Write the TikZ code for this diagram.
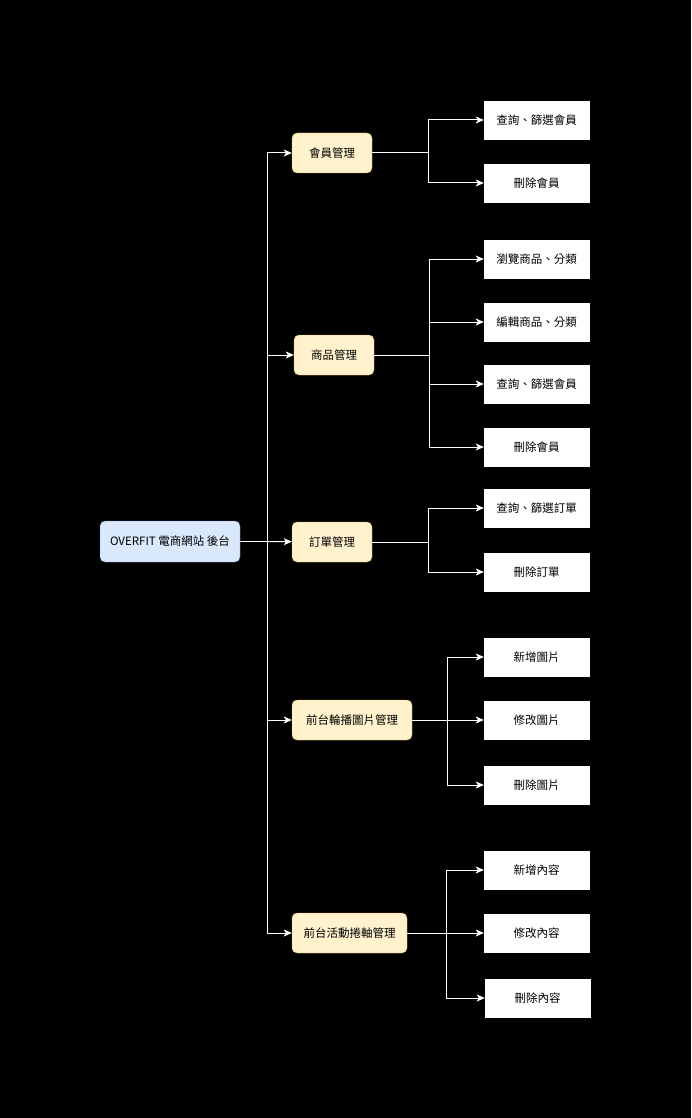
\documentclass[tikz,border=0pt]{standalone}
\usepackage{fontspec}
\setmainfont{Noto Sans CJK TC}
\usepackage{tikz}
\usetikzlibrary{arrows.meta, shapes, backgrounds, calc}
\pgfdeclarelayer{background}
\pgfsetlayers{background,main}

\definecolor{rootFill}{HTML}{DAE8FC}
\definecolor{rootLine}{HTML}{6C8EBF}
\definecolor{modFill}{HTML}{FFF2CC}
\definecolor{modLine}{HTML}{D6B656}

\begin{document}
\begin{tikzpicture}[x=1pt, y=-1pt]

    % Font
    \fontsize{11.5}{14}\selectfont

    % Boxes
    \tikzset{nRoot/.style={draw=rootLine, fill=rootFill, rounded corners=5pt, minimum width=140pt, minimum height=41pt, inner sep=0pt}}
    \tikzset{nMod/.style={draw=modLine, fill=modFill, rounded corners=5pt, minimum height=40pt, inner sep=0pt}}
    \tikzset{nLeaf/.style={draw=white, fill=white, minimum width=105pt, minimum height=38pt, inner sep=0pt}}

    % Connectors
    \tikzset{pE/.style={draw=white, line width=1pt, -{Stealth[length=8pt, width=7pt, inset=2pt]}}}
    \tikzset{pL/.style={draw=white, line width=1pt}}

    % Root
    \node (root) [nRoot] at (170, 541.5) {OVERFIT 電商網站 後台};

    % Modules
    \node (mem) [nMod, minimum width=80pt] at (332, 153) {會員管理};
    \node (prod) [nMod, minimum width=80pt] at (334, 355) {商品管理};
    \node (ord) [nMod, minimum width=80pt] at (332, 542) {訂單管理};
    \node (car) [nMod, minimum width=120pt] at (352, 720) {前台輪播圖片管理};
    \node (act) [nMod, minimum width=115pt] at (349.5, 933) {前台活動捲軸管理};

    % Leaves
    \node (mem1) [nLeaf] at (536.5, 120) {查詢、篩選會員};
    \node (mem2) [nLeaf] at (536.5, 183) {刪除會員};
    \node (prod1) [nLeaf] at (536.5, 259) {瀏覽商品、分類};
    \node (prod2) [nLeaf] at (536.5, 322) {編輯商品、分類};
    \node (prod3) [nLeaf] at (536.5, 384) {查詢、篩選會員};
    \node (prod4) [nLeaf] at (536.5, 447) {刪除會員};
    \node (ord1) [nLeaf] at (536.5, 508) {查詢、篩選訂單};
    \node (ord2) [nLeaf] at (536.5, 572) {刪除訂單};
    \node (car1) [nLeaf] at (536.5, 657) {新增圖片};
    \node (car2) [nLeaf] at (536.5, 720) {修改圖片};
    \node (car3) [nLeaf] at (536.5, 785) {刪除圖片};
    \node (act1) [nLeaf] at (536.5, 870) {新增內容};
    \node (act2) [nLeaf] at (536.5, 933) {修改內容};
    \node (act3) [nLeaf] at (537.5, 998) {刪除內容};

    % Branch points
    \coordinate (tR) at (267, 541.5);
    \coordinate (tMem) at (428, 153);
    \coordinate (tProd) at (429, 355);
    \coordinate (tOrd) at (428, 542);
    \coordinate (tCar) at (447, 720);
    \coordinate (tAct) at (446, 933);

    % Canvas and edges
    \begin{pgfonlayer}{background}

    	% Canvas
    	\fill[black] (0,0) rectangle (691,1118);

    	% Root to modules
    	\path[pL] (root) -- (tR);
    		\path[pE] (tR) |- (mem);
    		\path[pE] (tR) |- (prod);
    		\path[pE] (tR) -- (ord);
    		\path[pE] (tR) |- (car);
    		\path[pE] (tR) |- (act);

    	% Modules to leaves
    	\path[pL] (mem) -- (tMem);
    		\path[pE] (tMem) |- (mem1);
    		\path[pE] (tMem) |- (mem2);
    	\path[pL] (prod) -- (tProd);
    		\path[pE] (tProd) |- (prod1);
    		\path[pE] (tProd) |- (prod2);
    		\path[pE] (tProd) |- (prod3);
    		\path[pE] (tProd) |- (prod4);
    	\path[pL] (ord) -- (tOrd);
    		\path[pE] (tOrd) |- (ord1);
    		\path[pE] (tOrd) |- (ord2);
    	\path[pL] (car) -- (tCar);
    		\path[pE] (tCar) |- (car1);
    		\path[pE] (tCar) -- (car2);
    		\path[pE] (tCar) |- (car3);
    	\path[pL] (act) -- (tAct);
    		\path[pE] (tAct) |- (act1);
    		\path[pE] (tAct) -- (act2);
    		\path[pE] (tAct) |- (act3);

    \end{pgfonlayer}

\end{tikzpicture}
\end{document}
